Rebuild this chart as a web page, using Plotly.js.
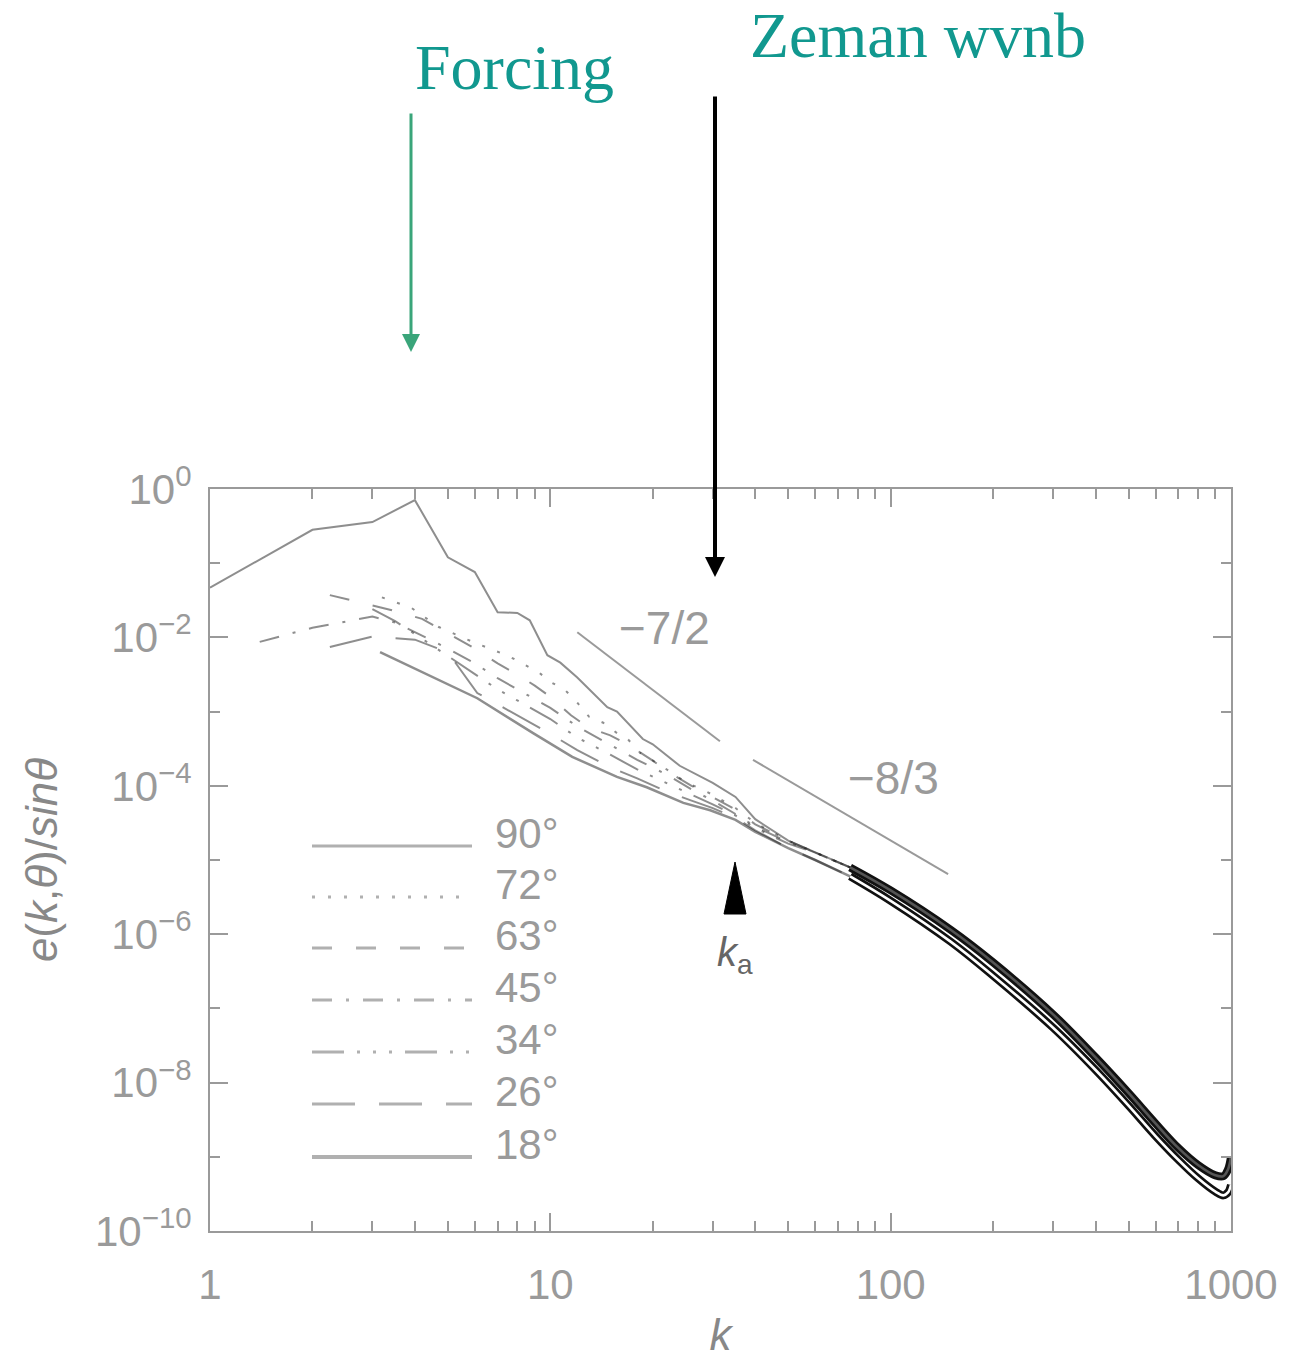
<!DOCTYPE html>
<html>
<head>
<meta charset="utf-8">
<script src="https://cdn.plot.ly/plotly-3.0.1.min.js"></script>
<style>html,body{margin:0;padding:0;background:#fff}#chart{width:1297px;height:1359px}</style>
</head>
<body>
<div id="chart"></div>
<script>
// ---- data, values as log10 of e(k,theta)/sin(theta) ----
const angles = ["90°", "72°", "63°", "45°", "34°", "26°", "18°"];

const k90 = [1, 2, 3, 4, 5, 6, 7, 8, 8.7, 9.8, 10.7, 12, 14.7, 15.7, 18.7, 20, 24, 30, 35, 40, 50];
const e90 = [-1.33, -0.55, -0.445, -0.15, -0.92, -1.12, -1.66, -1.67, -1.77, -2.24, -2.34, -2.54, -2.94, -3.0, -3.37, -3.44, -3.73, -3.96, -4.15, -4.45, -4.74];

const k72 = [3.2, 3.9, 4.7, 5.7, 6.8, 7.6, 9.3, 10, 11, 12, 13, 14.3, 15.7, 16.8, 18.4, 21, 25, 30, 35, 40, 50];
const e72 = [-1.46, -1.6, -1.86, -2.03, -2.17, -2.26, -2.48, -2.6, -2.7, -2.88, -3.07, -3.15, -3.29, -3.36, -3.56, -3.72, -3.95, -4.12, -4.3, -4.5, -4.74];

const k63 = [2.25, 2.6, 3, 3.4, 4.2, 5, 6, 7, 8, 9, 10, 11.5, 13, 15, 17, 20, 22, 26, 30, 35, 40, 50];
const e63 = [-1.43, -1.5, -1.56, -1.63, -1.75, -1.95, -2.15, -2.35, -2.5, -2.65, -2.8, -3.05, -3.22, -3.32, -3.45, -3.66, -3.8, -4.0, -4.15, -4.32, -4.52, -4.74];

const k45 = [1.4, 2, 3, 3.5, 4.3, 5, 6, 7, 8, 10, 12, 15, 18, 22, 26, 30, 35, 40, 50];
const e45 = [-2.06, -1.87, -1.72, -1.8, -2.0, -2.15, -2.35, -2.55, -2.7, -2.95, -3.2, -3.45, -3.65, -3.85, -4.05, -4.2, -4.38, -4.55, -4.76];

const k34 = [3, 3.5, 4.3, 5, 6, 7, 8, 10, 12, 15, 18, 22, 26, 30, 35, 40, 50];
const e34 = [-1.62, -1.78, -2.05, -2.25, -2.5, -2.7, -2.85, -3.1, -3.35, -3.58, -3.78, -3.97, -4.12, -4.25, -4.4, -4.57, -4.78];

const k26 = [2.25, 3, 4, 5, 6.1, 8, 10, 12, 15, 18, 22, 26, 30, 35, 40, 50];
const e26 = [-2.13, -1.99, -2.03, -2.2, -2.75, -3.05, -3.3, -3.52, -3.75, -3.9, -4.08, -4.2, -4.3, -4.43, -4.6, -4.84];

const k18 = [3.16, 6.1, 8.9, 11.6, 15.7, 19.2, 24.6, 29.5, 35, 40, 50];
const e18 = [-2.2, -2.82, -3.29, -3.61, -3.88, -4.02, -4.23, -4.33, -4.46, -4.62, -4.84];

// high-k part where the angle curves merge into two dark bundles
const kTail = [60, 76, 100, 150, 200, 300, 400, 500, 600, 700, 800, 900, 950, 980, 1000];
const eTailUpper = [-4.9, -5.1, -5.41, -5.94, -6.38, -7.08, -7.66, -8.14, -8.55, -8.88, -9.11, -9.25, -9.26, -9.17, -9.0];
const eTailLower = [-5.0, -5.22, -5.55, -6.10, -6.56, -7.26, -7.83, -8.31, -8.72, -9.04, -9.29, -9.47, -9.52, -9.48, -9.38];

// reference slopes
const k72Slope = [12, 31.5];  const e72Slope = [-1.93, -3.40];   // -7/2
const k83Slope = [39.4, 147.5]; const e83Slope = [-3.65, -5.19]; // -8/3

const yTickExp = [0, -2, -4, -6, -8, -10];
const yMinorExp = [-1, -3, -5, -7, -9];
const xTickVals = [1, 10, 100, 1000];

// ---- styling ----
const W = 1297, H = 1359;
const L = 210, R = 66, T = 489, B = 128;
const pw = W - L - R, ph = H - T - B;
const px = x => (x - L) / pw;
const py = y => (H - B - y) / ph;
const GRAY = '#9a9a9a';
const LINE = 'rgba(30,30,30,0.5)';
const dashes = ['solid', '3px,13px', '20px,24px', '20px,14px,3px,14px',
  '32px,13px,3px,13px,3px,13px,3px,13px', '43px,24px', 'solid'];
const widths = [2, 2, 2, 2, 2, 2, 2.5];

const lowK = [k90, k72, k63, k45, k34, k26, k18];
const lowE = [e90, e72, e63, e45, e34, e26, e18];
const tails = [eTailUpper, eTailUpper, eTailUpper, eTailUpper, eTailUpper, eTailLower, eTailLower];

const pow10 = v => Math.pow(10, v);
// each angle curve: its own low-k part, then the start of its bundle (gray, fading into the dark tail)
const traces = angles.map((a, i) => ({
  type: 'scatter', mode: 'lines', name: a, showlegend: false,
  x: lowK[i].concat(kTail.slice(0, 3)),
  y: lowE[i].concat(tails[i].slice(0, 3)).map(pow10),
  line: {color: LINE, width: widths[i], dash: dashes[i]},
  hoverinfo: 'skip'
}));
// merged high-k bundles, drawn as dark outlined curves as in the scan
const tailStyle = [
  {e: eTailLower, color: '#111', width: 8},
  {e: eTailUpper, color: '#111', width: 8},
  {e: eTailLower, color: '#fff', width: 2.6},
  {e: eTailUpper, color: '#555', width: 2.6}
];
tailStyle.forEach(s => traces.push({
  type: 'scatter', mode: 'lines', showlegend: false, hoverinfo: 'skip',
  x: kTail.slice(1), y: s.e.slice(1).map(pow10),
  line: {color: s.color, width: s.width, shape: 'spline', smoothing: 1}
}));
traces.push({type: 'scatter', mode: 'lines', name: '-7/2', showlegend: false,
  x: k72Slope, y: e72Slope.map(pow10), line: {color: GRAY, width: 2}});
traces.push({type: 'scatter', mode: 'lines', name: '-8/3', showlegend: false,
  x: k83Slope, y: e83Slope.map(pow10), line: {color: GRAY, width: 2}});

const tickFont = {family: 'Liberation Sans, Arial, sans-serif', size: 42, color: GRAY};

// legend drawn by hand (long line samples)
const legRowsY = [846, 897, 948, 1000, 1052, 1104, 1157];
const shapes = legRowsY.map((y, i) => ({
  type: 'line', xref: 'paper', yref: 'paper',
  x0: px(312), x1: px(472), y0: py(y), y1: py(y),
  line: {color: '#b0b0b0', width: i === 6 ? 4 : 3, dash: dashes[i]}
}));
// k_a marker triangle
shapes.push({type: 'path', xref: 'paper', yref: 'paper',
  path: `M ${px(735)},${py(862)} L ${px(724)},${py(914)} L ${px(746)},${py(914)} Z`,
  fillcolor: '#000', line: {color: '#000', width: 1}});

const annotations = angles.map((a, i) => ({
  xref: 'paper', yref: 'paper', x: px(493), y: py(legRowsY[i] - 13),
  xanchor: 'left', yanchor: 'middle', text: a, showarrow: false,
  font: {family: 'Liberation Sans, Arial, sans-serif', size: 42, color: GRAY}
}));
annotations.push(
  {xref: 'x', yref: 'y', x: Math.log10(21.7), y: -1.87, text: '−7/2', showarrow: false,
   font: {family: 'Liberation Sans, Arial, sans-serif', size: 46, color: GRAY}},
  {xref: 'x', yref: 'y', x: Math.log10(101.6), y: -3.89, text: '−8/3', showarrow: false,
   font: {family: 'Liberation Sans, Arial, sans-serif', size: 46, color: GRAY}},
  {xref: 'x', yref: 'y', x: Math.log10(34.9), y: -6.28, text: '<i>k</i><sub>a</sub>', showarrow: false,
   font: {family: 'Liberation Sans, Arial, sans-serif', size: 40, color: '#666'}},
  {xref: 'paper', yref: 'paper', x: px(413), y: py(67), xanchor: 'left', yanchor: 'middle',
   text: 'Forcing', showarrow: false,
   font: {family: 'Liberation Serif, Times New Roman, serif', size: 64, color: '#11988f'}},
  {xref: 'paper', yref: 'paper', x: px(748), y: py(35), xanchor: 'left', yanchor: 'middle',
   text: 'Zeman wvnb', showarrow: false,
   font: {family: 'Liberation Serif, Times New Roman, serif', size: 64, color: '#11988f'}},
  {xref: 'paper', yref: 'paper', x: px(411), y: py(352), ax: 0, ay: -240, text: '',
   showarrow: true, arrowhead: 2, arrowsize: 1.2, arrowwidth: 3, arrowcolor: '#3aa57a'},
  {xref: 'paper', yref: 'paper', x: px(715), y: py(577), ax: 0, ay: -482, text: '',
   showarrow: true, arrowhead: 2, arrowsize: 1, arrowwidth: 4, arrowcolor: '#000'}
);

const layout = {
  width: W, height: H,
  margin: {l: L, r: R, t: T, b: B, pad: 0},
  paper_bgcolor: '#fff', plot_bgcolor: '#fff',
  showlegend: false,
  xaxis: {
    type: 'log', range: [0, 3], tickmode: 'array', tickvals: xTickVals,
    ticktext: xTickVals.map(String),
    ticks: 'inside', ticklen: 18, tickwidth: 2, tickcolor: GRAY,
    minor: {ticks: 'inside', ticklen: 10, tickwidth: 2, tickcolor: GRAY, dtick: 'D1', showgrid: false},
    showline: true, linecolor: GRAY, linewidth: 2, mirror: 'ticks',
    showgrid: false, zeroline: false, tickfont: tickFont, ticklabelstandoff: 16,
    title: {text: '<i>k</i>', standoff: 22,
      font: {family: 'Liberation Sans, Arial, sans-serif', size: 44, color: '#888'}}
  },
  yaxis: {
    type: 'log', range: [-10, 0], tickmode: 'array',
    tickvals: yTickExp.map(pow10),
    ticktext: yTickExp.map(e => '10<sup>' + (e === 0 ? '0' : '−' + (-e)) + '</sup>'),
    ticks: 'inside', ticklen: 18, tickwidth: 2, tickcolor: GRAY,
    minor: {ticks: 'inside', ticklen: 10, tickwidth: 2, tickcolor: GRAY,
      tickmode: 'array', tickvals: yMinorExp.map(pow10), showgrid: false},
    showline: true, linecolor: GRAY, linewidth: 2, mirror: 'ticks',
    showgrid: false, zeroline: false, tickfont: tickFont, ticklabelstandoff: 8,
    title: {text: '<i>e</i>(<i>k</i>,<i>θ</i>)/<i>sinθ</i>', standoff: 24,
      font: {family: 'Liberation Sans, Arial, sans-serif', size: 44, color: '#888'}}
  },
  shapes: shapes,
  annotations: annotations
};

Plotly.newPlot('chart', traces, layout, {displayModeBar: false, staticPlot: true});
</script>
</body>
</html>
